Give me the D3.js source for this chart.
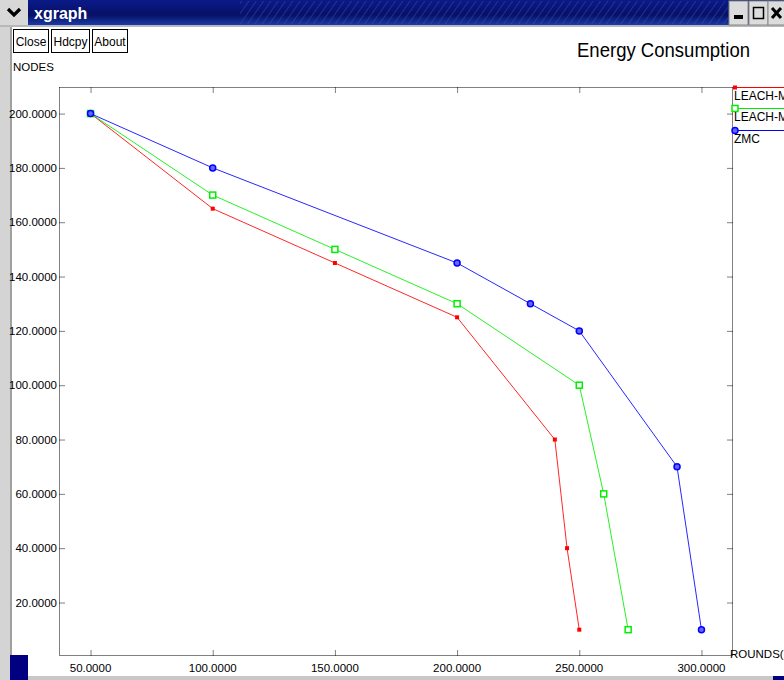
<!DOCTYPE html>
<html><head><meta charset="utf-8">
<script src="https://cdn.jsdelivr.net/npm/d3@7"></script>
<style>html,body{margin:0;padding:0;background:#fff;overflow:hidden}svg{display:block}</style>
</head><body>
<script>
// ---- data ----
const seriesNames = ["LEACH-M", "LEACH-M", "ZMC"];
const redX   = [50, 100, 150, 200, 240, 245, 250];
const redY   = [200, 165, 145, 125, 80, 40, 10];
const greenX = [50, 100, 150, 200, 250, 260, 270];
const greenY = [200, 170, 150, 130, 100, 60, 10];
const blueX  = [50, 100, 200, 230, 250, 290, 300];
const blueY  = [200, 180, 145, 130, 120, 70, 10];
const xTicks = [50, 100, 150, 200, 250, 300];
const yTicks = [20, 40, 60, 80, 100, 120, 140, 160, 180, 200];
const titleText = "Energy Consumption";
const yLabel = "NODES";
const xLabel = "ROUNDS(s)";
const buttons = ["Close", "Hdcpy", "About"];

const W = 784, H = 680;
const svg = d3.select("body").append("svg").attr("width", W).attr("height", H);
const FONT = "'Liberation Sans', Arial, sans-serif";

// ---- window chrome ----
svg.append("rect").attr("x",0).attr("y",0).attr("width",W).attr("height",H).attr("fill","#fff");
svg.append("rect").attr("x",0).attr("y",0).attr("width",10).attr("height",H).attr("fill","#d4d4d4");
svg.append("rect").attr("x",10).attr("y",25).attr("width",2).attr("height",H-25).attr("fill","#a0a0a0");
svg.append("rect").attr("x",10).attr("y",655).attr("width",18).attr("height",25).attr("fill","#000080");
svg.append("rect").attr("x",28).attr("y",676).attr("width",W-28).attr("height",4).attr("fill","#c8c8c8");
svg.append("rect").attr("x",773).attr("y",676).attr("width",11).attr("height",4).attr("fill","#000080");
// title bar
const defs = svg.append("defs");
const grad = defs.append("linearGradient").attr("id","tb").attr("x1",0).attr("y1",0).attr("x2",0).attr("y2",1);
grad.append("stop").attr("offset","0").attr("stop-color","#0a1a8a");
grad.append("stop").attr("offset","0.6").attr("stop-color","#071065");
grad.append("stop").attr("offset","1").attr("stop-color","#1a3aa8");
const pat = defs.append("pattern").attr("id","hatch").attr("width",6).attr("height",6)
  .attr("patternUnits","userSpaceOnUse").attr("patternTransform","rotate(35)");
pat.append("line").attr("x1",0).attr("y1",0).attr("x2",0).attr("y2",6).attr("stroke","#3a52b0").attr("stroke-width",1.2);
svg.append("rect").attr("x",0).attr("y",0).attr("width",W).attr("height",25).attr("fill","url(#tb)");
svg.append("rect").attr("x",240).attr("y",1).attr("width",488).attr("height",23).attr("fill","url(#hatch)").attr("opacity",0.8);
svg.append("rect").attr("x",0).attr("y",25).attr("width",W).attr("height",2).attr("fill","#b8b8b8");
svg.append("rect").attr("x",0).attr("y",0).attr("width",28).attr("height",25).attr("fill","#d8d8d8");
svg.append("path").attr("d","M8,9 L14,15 L20,9").attr("fill","none").attr("stroke","#000").attr("stroke-width",3.2);
svg.append("text").attr("x",34).attr("y",19).attr("fill","#fff").attr("font-family",FONT)
  .attr("font-weight","bold").attr("font-size",16).text("xgraph");
[[729,"min"],[749,"max"],[768,"close"]].forEach(([bx,k])=>{
  svg.append("rect").attr("x",bx).attr("y",1).attr("width",19).attr("height",24).attr("fill","#dcdcdc").attr("stroke","#888");
  if(k==="min") svg.append("rect").attr("x",bx+5).attr("y",15).attr("width",9).attr("height",4).attr("fill","#000");
  if(k==="max") svg.append("rect").attr("x",bx+4.5).attr("y",7.5).attr("width",10).attr("height",11).attr("fill","none").attr("stroke","#000").attr("stroke-width",1.5);
  if(k==="close") svg.append("path").attr("d",`M${bx+4},8 L${bx+13},18 M${bx+13},8 L${bx+4},18`).attr("stroke","#000").attr("stroke-width",3);
});

// ---- buttons ----
const btnX = [13, 51, 92], btnW = [35, 38, 35];
buttons.forEach((b,i)=>{
  svg.append("rect").attr("x",btnX[i]+0.5).attr("y",29.5).attr("width",btnW[i]).attr("height",23)
    .attr("fill","#fff").attr("stroke","#000");
  svg.append("text").attr("x",btnX[i]+btnW[i]/2+0.5).attr("y",45.5).attr("text-anchor","middle")
    .attr("font-family",FONT).attr("font-size",12).attr("fill","#000").text(b);
});

svg.append("text").attr("x",577).attr("y",57).attr("font-family",FONT).attr("font-size",20)
  .attr("textLength",173).attr("lengthAdjust","spacingAndGlyphs").attr("fill","#000").text(titleText);
svg.append("text").attr("x",13).attr("y",71).attr("font-family",FONT).attr("font-size",11.5).attr("fill","#000").text(yLabel);

// ---- plot ----
const L = 59.5, R = 732.5, T = 87.5, B = 655.5;
const x = d3.scaleLinear().domain([37.3, 312.7]).range([L, R]);
const y = d3.scaleLinear().domain([0.5, 209.6]).range([B, T]);

const frame = svg.append("g").attr("stroke","#000").attr("stroke-dasharray","1,1").attr("fill","none");
frame.append("line").attr("x1",L).attr("x2",R).attr("y1",T).attr("y2",T);
frame.append("line").attr("x1",L).attr("x2",R).attr("y1",B).attr("y2",B);
frame.append("line").attr("x1",L).attr("x2",L).attr("y1",T).attr("y2",B);
frame.append("line").attr("x1",R).attr("x2",R).attr("y1",T).attr("y2",B);

const xb = svg.append("g").attr("transform",`translate(0,${B})`)
  .call(d3.axisTop(x).tickValues(xTicks).tickSize(5).tickFormat(""));
const xt = svg.append("g").attr("transform",`translate(0,${T})`)
  .call(d3.axisBottom(x).tickValues(xTicks).tickSize(5).tickFormat(""));
const yl = svg.append("g").attr("transform",`translate(${L},0)`)
  .call(d3.axisRight(y).tickValues(yTicks).tickSize(5).tickFormat(""));
const yr = svg.append("g").attr("transform",`translate(${R},0)`)
  .call(d3.axisLeft(y).tickValues(yTicks).tickSize(5).tickFormat(""));
[xb,xt,yl,yr].forEach(g=>{
  g.select(".domain").remove();
  g.selectAll(".tick line").attr("stroke","#000").attr("stroke-dasharray","1,1");
});

const fmt = d3.format(".4f");
svg.append("g").selectAll("text").data(xTicks).join("text")
  .attr("x",d=>x(d)).attr("y",672).attr("text-anchor","middle")
  .attr("font-family",FONT).attr("font-size",11.5).attr("fill","#000").text(fmt);
svg.append("g").selectAll("text").data(yTicks).join("text")
  .attr("x",57).attr("y",d=>y(d)+4).attr("text-anchor","end")
  .attr("font-family",FONT).attr("font-size",11.5).attr("fill","#000").text(fmt);
svg.append("text").attr("x",730).attr("y",658).attr("font-family",FONT).attr("font-size",11.5)
  .attr("fill","#000").text(xLabel);

// ---- series ----
const series = [
  {name: seriesNames[0], xs: redX, ys: redY, color: "#ff0000", marker: "dot"},
  {name: seriesNames[1], xs: greenX, ys: greenY, color: "#00ee00", marker: "square"},
  {name: seriesNames[2], xs: blueX, ys: blueY, color: "#0000ff", marker: "circle"}
];
const line = d3.line().x(d=>x(d[0])).y(d=>y(d[1]));
function drawMarker(g, cx, cy, s){
  if(s.marker==="dot") g.append("rect").attr("x",cx-2).attr("y",cy-2).attr("width",4).attr("height",4).attr("fill",s.color);
  else if(s.marker==="square") g.append("rect").attr("x",cx-3).attr("y",cy-3).attr("width",6).attr("height",6)
    .attr("fill","#fff").attr("stroke",s.color).attr("stroke-width",1.5);
  else g.append("circle").attr("cx",cx).attr("cy",cy).attr("r",3).attr("fill","#6666ff").attr("stroke",s.color).attr("stroke-width",1.5);
}
series.forEach(s=>{
  const pts = s.xs.map((v,i)=>[v, s.ys[i]]);
  svg.append("path").datum(pts).attr("d",line).attr("fill","none").attr("stroke",s.color).attr("stroke-width",1).attr("opacity",0.85);
  const g = svg.append("g");
  pts.forEach(p=>drawMarker(g, x(p[0]), y(p[1]), s));
});

// ---- legend ----
const legY = [87, 108, 130];
series.forEach((s,i)=>{
  svg.append("line").attr("x1",733).attr("x2",W).attr("y1",legY[i]+0.5).attr("y2",legY[i]+0.5).attr("stroke",s.color).attr("stroke-width",1.2);
  const g = svg.append("g");
  drawMarker(g, 735, legY[i]+0.5, s);
  svg.append("text").attr("x",734).attr("y",legY[i]+13).attr("font-family",FONT).attr("font-size",12)
    .attr("fill","#000").text(s.name);
});
</script>
</body></html>
